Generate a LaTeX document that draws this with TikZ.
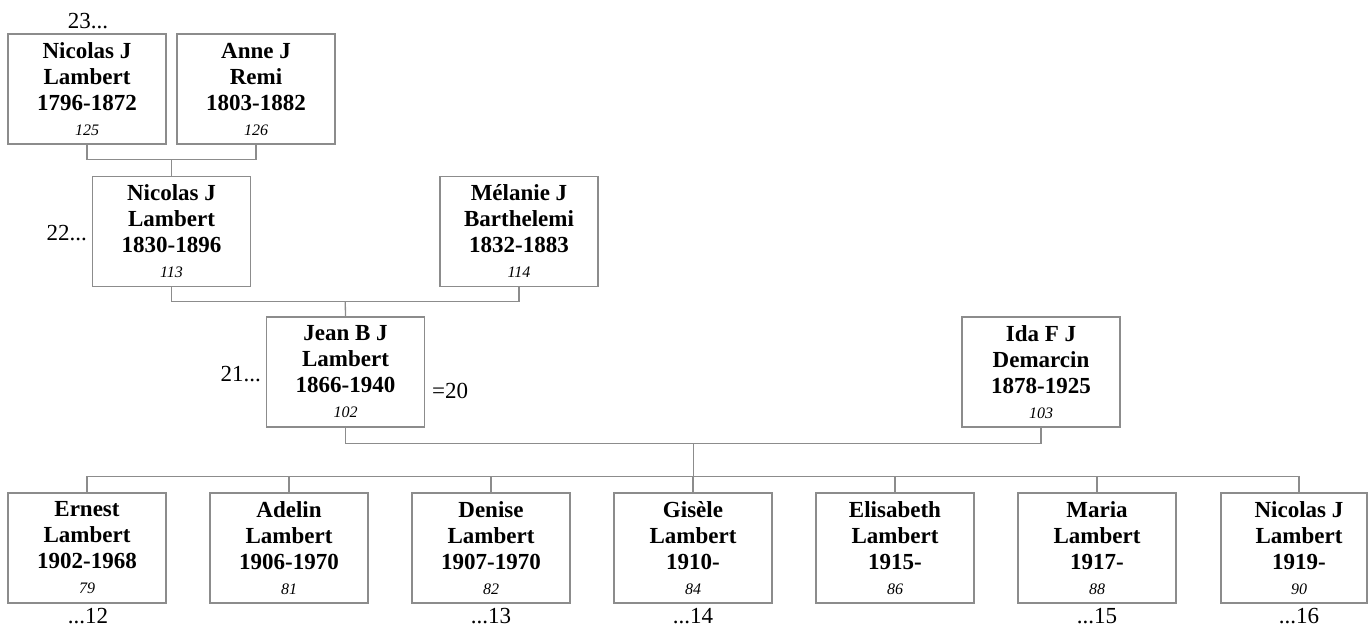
\documentclass[tikz,border=0pt]{standalone}
\usepackage{fontspec}
\setmainfont{Liberation Serif}
\usetikzlibrary{calc}
\definecolor{linegray}{RGB}{140,140,140}
\newcommand{\pers}[4]{#1\\#2\\#3\\[-1pt]{\mdseries\itshape\fontsize{16}{18}\selectfont #4}}
\tikzset{
  person/.style={draw=linegray, line width=1.3pt, minimum width=158pt, minimum height=110pt,
    inner sep=0pt, align=center, font=\bfseries\fontsize{23}{26}\selectfont},
  plain/.style={inner sep=0pt, font=\fontsize{23}{26}\selectfont},
  conn/.style={draw=linegray, line width=1.3pt},
}
\begin{document}
\begin{tikzpicture}[x=1pt,y=-1pt]
\useasboundingbox (0,0) rectangle (1368,626);
% generation 1
\node[person] (A) at (87,89) {\pers{Nicolas J}{Lambert}{1796-1872}{125}};
\node[person] (B) at (256,89) {\pers{Anne J}{Remi}{1803-1882}{126}};
% generation 2
\node[person] (C) at (171.5,231.5) {\pers{Nicolas J}{Lambert}{1830-1896}{113}};
\node[person] (D) at (519,231.5) {\pers{Mélanie J}{Barthelemi}{1832-1883}{114}};
% generation 3
\node[person] (E) at (345.5,372) {\pers{Jean B J}{Lambert}{1866-1940}{102}};
\node[person] (F) at (1041,372) {\pers{Ida F J}{Demarcin}{1878-1925}{103}};
% children
\node[person] (c1) at (87,548) {\pers{Ernest}{Lambert}{1902-1968}{79}};
\node[person] (c2) at (289,548) {\pers{Adelin}{Lambert}{1906-1970}{81}};
\node[person] (c3) at (491,548) {\pers{Denise}{Lambert}{1907-1970}{82}};
\node[person] (c4) at (693,548) {\pers{Gisèle}{Lambert}{1910-}{84}};
\node[person] (c5) at (895,548) {\pers{Elisabeth}{Lambert}{1915-}{86}};
\node[person] (c6) at (1097,548) {\pers{Maria}{Lambert}{1917-}{88}};
\node[person, minimum width=146pt] (c7) at (1294,548) {};
\node[person, draw=none] (c7t) at (1299,548) {\pers{Nicolas J}{Lambert}{1919-}{90}};
% connectors
\coordinate (ab) at ($(A.south)!0.5!(B.south)+(0,15)$);
\draw[conn] (A.south) -- ++(0,15) -| (B.south);
\draw[conn] (ab) -- (C.north);
\coordinate (cd) at ($(C.south)!0.5!(D.south)+(0,14)$);
\draw[conn] (C.south) -- ++(0,14) -| (D.south);
\draw[conn] (cd) -- (E.north);
\coordinate (ef) at ($(E.south)!0.5!(F.south)+(0,16)$);
\draw[conn] (E.south) -- ++(0,16) -| (F.south);
\coordinate (bar) at (ef |- 0,477);
\draw[conn] (ef) -- (bar);
\draw[conn] (c1.north) -- ++(0,-16) -| (c7t.north |- c7.north);
\foreach \c in {c2,c3,c4,c5,c6}{\draw[conn] (\c.north) -- ++(0,-16);}
% labels
\node[plain, anchor=base] (l23) at (88,29) {23...};
\node[plain, anchor=base east] (l22) at (87,240) {22...};
\node[plain, anchor=base east] (l21) at (261,381.5) {21...};
\node[plain, anchor=base west] (l20) at (432,398) {=20};
\node[plain, anchor=base] (l12) at (88,623) {...12};
\node[plain, anchor=base] (l13) at (491,623) {...13};
\node[plain, anchor=base] (l14) at (693,623) {...14};
\node[plain, anchor=base] (l15) at (1097,623) {...15};
\node[plain, anchor=base] (l16) at (1299,623) {...16};
\end{tikzpicture}
\end{document}
